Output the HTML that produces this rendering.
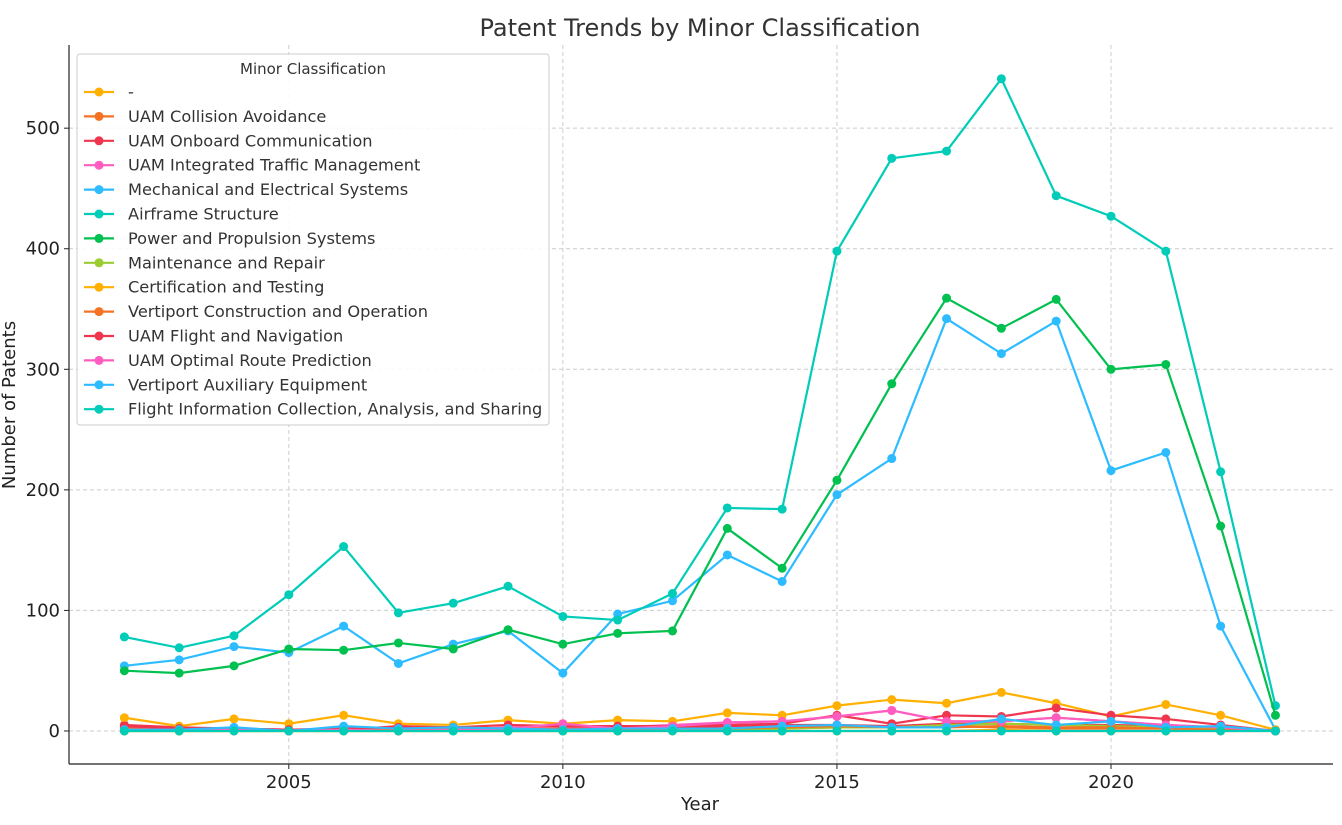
<!DOCTYPE html>
<html><head><meta charset="utf-8"><style>
body{margin:0;background:#fff;font-family:"Liberation Sans","DejaVu Sans",sans-serif}
svg text{font-family:"DejaVu Sans","Liberation Sans",sans-serif}
</style></head><body>
<svg id="c" width="1342" height="820"></svg>
<script>
const years=[2002,2003,2004,2005,2006,2007,2008,2009,2010,2011,2012,2013,2014,2015,2016,2017,2018,2019,2020,2021,2022,2023];
const seriesNames=["-","UAM Collision Avoidance","UAM Onboard Communication","UAM Integrated Traffic Management","Mechanical and Electrical Systems","Airframe Structure","Power and Propulsion Systems","Maintenance and Repair","Certification and Testing","Vertiport Construction and Operation","UAM Flight and Navigation","UAM Optimal Route Prediction","Vertiport Auxiliary Equipment","Flight Information Collection, Analysis, and Sharing"];
const colors=["#ffb000","#f57223","#f0364e","#ff5cc0","#2dbcff","#00ccb8","#00c050","#9acd32","#ffb000","#f57223","#f0364e","#ff5cc0","#2dbcff","#00ccb8"];
const sDash=[0,0,0,0,0,0,0,0,0,0,0,0,0,0,0,0,1,0,0,0,0,0];
const sCollision=[1,1,1,0,1,3,2,1,1,1,1,1,2,3,3,4,3,2,2,2,1,0];
const sOnboard=[5,3,2,1,1,4,3,2,3,2,3,4,5,5,4,6,6,5,5,4,3,0];
const sIntegrated=[3,2,2,1,2,1,1,3,4,3,5,7,8,12,17,8,8,11,8,5,3,0];
const sMechanical=[54,59,70,65,87,56,72,83,48,97,108,146,124,196,226,342,313,340,216,231,87,1];
const sAirframe=[78,69,79,113,153,98,106,120,95,92,114,185,184,398,475,481,541,444,427,398,215,21];
const sPower=[50,48,54,68,67,73,68,84,72,81,83,168,135,208,288,359,334,358,300,304,170,13];
const sMaint=[0,0,0,0,0,0,0,0,0,0,1,1,2,3,3,5,6,5,4,3,2,0];
const sCert=[11,4,10,6,13,6,5,9,6,9,8,15,13,21,26,23,32,23,12,22,13,1];
const sVertCon=[2,1,1,1,1,2,2,2,2,1,2,2,3,4,3,3,4,3,3,2,1,0];
const sFlightNav=[4,2,2,1,2,3,3,5,4,4,4,5,6,13,6,13,12,19,13,10,5,0];
const sOptimal=[1,1,1,0,1,0,1,2,6,2,4,7,8,12,17,8,8,11,8,5,3,0];
const sAux=[1,1,3,0,4,2,3,2,1,2,2,2,4,5,3,3,10,5,8,3,4,0];
const sFlightInfo=[0,0,0,0,0,0,0,0,0,0,0,0,0,0,0,0,0,0,0,0,0,0];
const allSeries=[sDash,sCollision,sOnboard,sIntegrated,sMechanical,sAirframe,sPower,sMaint,sCert,sVertCon,sFlightNav,sOptimal,sAux,sFlightInfo];
const xTicks=[2005,2010,2015,2020];
const yTicks=[0,100,200,300,400,500];
const L=69,R=1333,T=45,B=764,X0=2000.99,X1=2024.05,Y0=-27.4,Y1=569;
const sx=v=>L+(v-X0)/(X1-X0)*(R-L);
const sy=v=>B-(v-Y0)/(Y1-Y0)*(B-T);
const NS="http://www.w3.org/2000/svg";
const svg=document.getElementById('c');
function mk(tag,attrs,parent){const e=document.createElementNS(NS,tag);for(const k in attrs)e.setAttribute(k,attrs[k]);(parent||svg).appendChild(e);return e;}
xTicks.forEach(t=>{const g=mk('line',{x1:sx(t),x2:sx(t),y1:T,y2:B,stroke:'#ccc','stroke-dasharray':'4,3','stroke-width':1});


const tl=mk('text',{x:sx(t),y:B+24,'text-anchor':'middle','font-size':18,fill:'#222'});tl.textContent=t;


mk('line',{x1:sx(t),x2:sx(t),y1:B,y2:B+5,stroke:'#222'});});
yTicks.forEach(t=>{const g=mk('line',{x1:L,x2:R,y1:sy(t),y2:sy(t),stroke:'#ccc','stroke-dasharray':'4,3','stroke-width':1});


const tl=mk('text',{x:L-9,y:sy(t)+6,'text-anchor':'end','font-size':18,fill:'#222'});tl.textContent=t;


mk('line',{x1:L-5,x2:L,y1:sy(t),y2:sy(t),stroke:'#222'});});
mk('line',{x1:L,x2:L,y1:T,y2:B,stroke:'#222','stroke-width':1.2});
mk('line',{x1:L,x2:R,y1:B,y2:B,stroke:'#222','stroke-width':1.2});
allSeries.forEach((s,i)=>{const g=mk('g',{});


mk('polyline',{points:s.map((v,j)=>sx(years[j])+','+sy(v)).join(' '),fill:'none',stroke:colors[i],'stroke-width':2.2},g);
s.forEach((v,j)=>{const c=mk('circle',{cx:sx(years[j]),cy:sy(v),r:4.5,fill:colors[i]},g);

});});
const tt=mk('text',{x:700,y:36,'text-anchor':'middle','font-size':24,fill:'#333'});tt.textContent='Patent Trends by Minor Classification';


const xt=mk('text',{x:700,y:810,'text-anchor':'middle','font-size':18,fill:'#222'});xt.textContent='Year';


const yt=mk('text',{x:15,y:405,'text-anchor':'middle','font-size':18,fill:'#222',transform:'rotate(-90 15 405)'});yt.textContent='Number of Patents';


const lg=mk('g',{});


mk('rect',{x:77,y:54,width:472,height:371,rx:3,fill:'#fff','fill-opacity':0.85,stroke:'#ccc'},lg);
const lt=mk('text',{x:313,y:74,'text-anchor':'middle','font-size':15,fill:'#333'},lg);lt.textContent='Minor Classification';
seriesNames.forEach((n,i)=>{const y=92+i*24.4;const e=mk('g',{},lg);


mk('line',{x1:84,x2:114,y1:y,y2:y,stroke:colors[i],'stroke-width':2.2},e);
mk('circle',{cx:99,cy:y,r:4.5,fill:colors[i]},e);
const t=mk('text',{x:128,y:y+5.5,'font-size':16.2,fill:'#333'},e);t.textContent=n;});
</script>
</body></html>
